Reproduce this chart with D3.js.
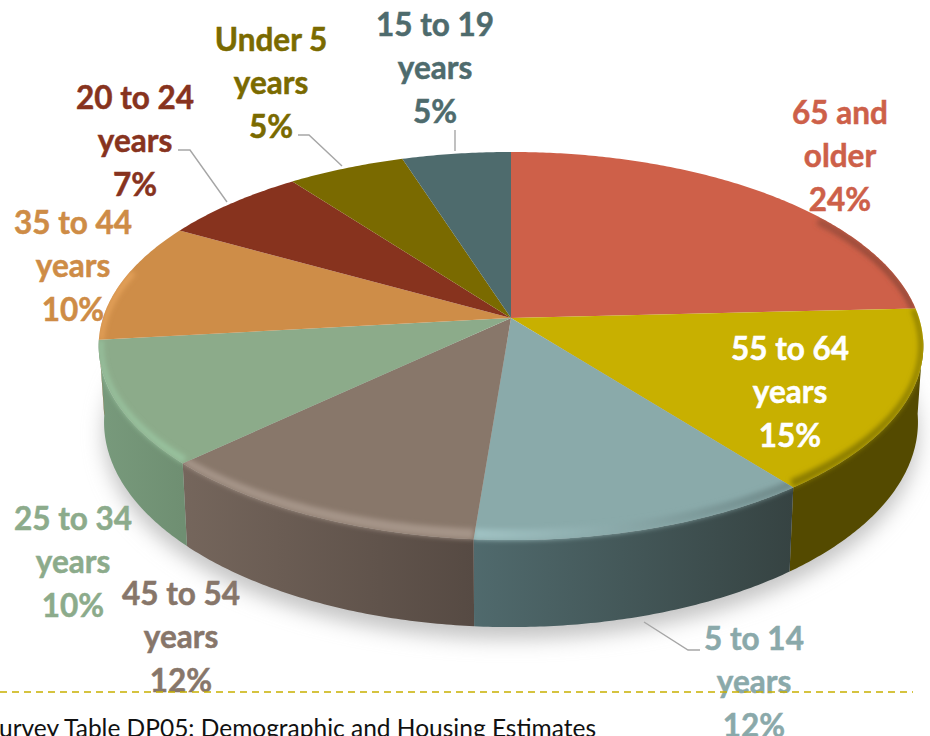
<!DOCTYPE html>
<html><head><meta charset="utf-8">
<style>html,body{margin:0;padding:0;background:#fff;overflow:hidden}svg{display:block}
text{font-family:Lato,"Open Sans",sans-serif}</style>
<script src="https://cdn.jsdelivr.net/npm/d3@7/dist/d3.min.js"></script>
</head><body><svg id="c" width="930" height="736"></svg>
<script>
// Data
const categories = ["65 and older","55 to 64 years","5 to 14 years","45 to 54 years","25 to 34 years","35 to 44 years","20 to 24 years","Under 5 years","15 to 19 years"];
const values = [24.2,15.3,11.75,11.65,10.3,10,6.6,5.3,4.9];
const labelLines = [["65 and","older"],["55 to 64","years"],["5 to 14","years"],["45 to 54","years"],["25 to 34","years"],["35 to 44","years"],["20 to 24","years"],["Under 5","years"],["15 to 19","years"]];
const footerText = "Survey Table DP05: Demographic and Housing Estimates";
// Style
const topColors = ["#ce6049","#c8b000","#8aaaaa","#88776a","#8cab8a","#ce8d48","#87331e","#7a6a00","#4e6b6d"];
const labelColors = ["#cd6049","#ffffff","#8aa9aa","#87766a","#8cab8b","#ce8c46","#87331e","#7a6a00","#4e6b6d"];
const wallFrom = ["#000","#544a00","#506a6d","#75665c","#789a7c","#9a6a36","#000","#000","#000"];
const wallTo   = ["#000","#544a00","#364342","#564a43","#6f8f72","#9a6a36","#000","#000","#000"];
const bevelFrom = ["#a4503d","#8a7b00","#a0c2c3","#a59488","#98c29e","#e5a25a",null,null,null];
const bevelTo   = ["#8e4636","#8a7b00","#6f8a8a","#a59488","#98c29e","#e5a25a",null,null,null];
const labelAnchors = [[840,124],[790,360],[754,650],[181,605],[73,530],[73,234],[135,109],[271,51],[435,36]];
const leaders = [[[644,622],[688,650],[700,650]],[[178,150],[190,150],[227,202]],[[298,135],[309,135],[342,166]],[[455,130],[455,151]]];

const svg = d3.select("#c");
const defs = svg.append("defs");
const blur = (id,s)=>defs.append("filter").attr("id",id).attr("x","-20%").attr("y","-20%").attr("width","140%").attr("height","140%")
  .append("feGaussianBlur").attr("stdDeviation",s);
blur("b2",2.8); blur("sh",10);

// Perspective projection of the pie's disk
const apex=[511,318], RX=408, RY=190, K=0.1443, DEPTH=74.5, SHRINK=0.987;
const pf = a => 1/(1+K*Math.cos(a));
const proj = a => { const f=pf(a); return [apex[0]+RX*Math.sin(a)*f, apex[1]-RY*Math.cos(a)*f]; };
const low = a => { const p=proj(a); return [apex[0]+(p[0]-apex[0])*SHRINK, p[1]+DEPTH*pf(a)]; };
const inner = a => { const p=proj(a), c=[510,346]; return [c[0]+(p[0]-c[0])*0.989, c[1]+(p[1]-c[1])*0.945]; };
const samples = (a0,a1) => { const n=Math.max(2,Math.ceil((a1-a0)/0.01)); return d3.range(n+1).map(i=>a0+(a1-a0)*i/n); };
const line = d3.line();
const rad = d=>d*Math.PI/180;

const arcs = d3.pie().sort(null).value(d=>d)(values);
arcs.forEach(d=>{ d.top = line([apex,...samples(d.startAngle,d.endAngle).map(proj)])+"Z"; });

const W0=rad(96), W1=rad(264);
const hGrad=(id,xs,c0,c1)=>{
  const g=defs.append("linearGradient").attr("id",id).attr("gradientUnits","userSpaceOnUse")
    .attr("x1",d3.min(xs)).attr("x2",d3.max(xs)).attr("y1",0).attr("y2",0);
  g.append("stop").attr("offset",0).attr("stop-color",c0);
  g.append("stop").attr("offset",1).attr("stop-color",c1);
};
arcs.forEach((d,i)=>{
  const a0=Math.max(d.startAngle,W0), a1=Math.min(d.endAngle,W1);
  if(a1>a0){
    const s=samples(a0,a1), up=s.map(proj);
    d.wall = line([...up,...s.slice().reverse().map(low)])+"Z";
    hGrad("w"+i,up.map(p=>p[0]),wallFrom[i],wallTo[i]);
  }
  const b0=Math.max(d.startAngle,rad(55)), b1=Math.min(d.endAngle,rad(285));
  if(bevelFrom[i] && b1>b0){
    const s=samples(b0,b1), r=s.map(proj);
    d.band = line([...r,...s.slice().reverse().map(inner)])+"Z";
    hGrad("v"+i,r.map(p=>p[0]),bevelFrom[i],bevelTo[i]);
  }
  const cp=defs.append("clipPath").attr("id","c"+i);
  cp.append("path").attr("d",d.top);
  if(d.wall) cp.append("path").attr("d",d.wall);
});

// ground shadow
const shS=samples(rad(70),rad(290));
svg.append("path").attr("d",line(shS.map(low))+"Z").attr("transform","translate(0,12)").attr("fill","#c4c4c4").attr("filter","url(#sh)");

// walls
svg.append("g").selectAll("path").data(arcs.filter(d=>d.wall)).join("path")
  .attr("d",d=>d.wall).attr("fill",d=>`url(#w${d.index})`);
// top faces
svg.append("g").selectAll("path").data(arcs).join("path")
  .attr("d",d=>d.top).attr("fill",(d,i)=>topColors[i]);
// bevel
svg.append("g").selectAll("g").data(arcs.filter(d=>d.band)).join("g")
  .attr("clip-path",d=>`url(#c${d.index})`)
  .append("path").attr("d",d=>d.band).attr("fill",d=>`url(#v${d.index})`).attr("filter","url(#b2)");

// leader lines
svg.append("g").selectAll("path").data(leaders).join("path")
  .attr("d",d=>line(d)).attr("fill","none").attr("stroke","#a6a6a6").attr("stroke-width",1.4);

// labels
const fmt=d3.format(".0f");
svg.append("g").selectAll("text").data(categories).join("text")
  .attr("text-anchor","middle").attr("font-size",31.5).attr("font-weight",700)
  .attr("fill",(d,i)=>labelColors[i]).attr("stroke",(d,i)=>labelColors[i]).attr("stroke-width",0.5)
  .each(function(d,i){
    const t=d3.select(this), ls=[...labelLines[i],fmt(values[i])+"%"];
    ls.forEach((s,j)=>t.append("tspan").attr("x",labelAnchors[i][0]).attr("y",labelAnchors[i][1]+j*43.3).text(s));
  });

// footer rule and source line
svg.append("line").attr("x1",0).attr("x2",913).attr("y1",692).attr("y2",692)
  .attr("stroke","#c8b000").attr("stroke-width",1.6).attr("stroke-dasharray","7 5");
svg.append("text").attr("x",596).attr("y",737).attr("text-anchor","end").attr("font-size",24.5).attr("fill","#111").text(footerText);
</script></body></html>
